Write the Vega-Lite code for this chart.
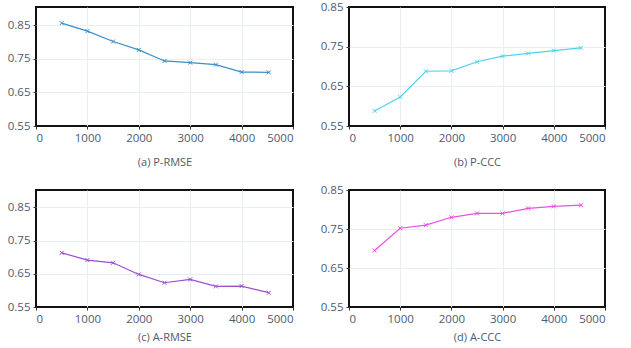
{
  "$schema": "https://vega.github.io/schema/vega-lite/v6.json",
  "padding": {"left": 6, "top": 0, "right": 5, "bottom": 5},
  "background": "white",
  "columns": 2,
  "spacing": {"row": 64, "column": 56},
  "bounds": "flush",
  "config": {
    "view": {"stroke": "#111111", "strokeWidth": 2},
    "axis": {
      "domain": false,
      "grid": true,
      "gridWidth": 1,
      "tickColor": "#333333",
      "tickSize": 3,
      "labelColor": "#4d5b70",
      "labelFont": "Open Sans",
      "labelFontSize": 11.5,
      "labelPadding": 3,
      "titleColor": "#4d5b70",
      "titleFont": "Open Sans",
      "titleFontSize": 11,
      "titleFontWeight": "normal"
    },
    "axisX": {
      "gridColor": {"condition": {"test": "datum.value === 0 || datum.value === 5000", "value": "transparent"}, "value": "#e9eef4"}
    }
  },
  "datasets": {
    "d": [
      {"panel": "a", "n": 500, "v": 0.857},
      {"panel": "a", "n": 1000, "v": 0.833},
      {"panel": "a", "n": 1500, "v": 0.802},
      {"panel": "a", "n": 2000, "v": 0.777},
      {"panel": "a", "n": 2500, "v": 0.744},
      {"panel": "a", "n": 3000, "v": 0.739},
      {"panel": "a", "n": 3500, "v": 0.733},
      {"panel": "a", "n": 4000, "v": 0.711},
      {"panel": "a", "n": 4530, "v": 0.710},
      {"panel": "b", "n": 500, "v": 0.588},
      {"panel": "b", "n": 1000, "v": 0.623},
      {"panel": "b", "n": 1500, "v": 0.688},
      {"panel": "b", "n": 2000, "v": 0.689},
      {"panel": "b", "n": 2500, "v": 0.712},
      {"panel": "b", "n": 3000, "v": 0.726},
      {"panel": "b", "n": 3500, "v": 0.733},
      {"panel": "b", "n": 4000, "v": 0.740},
      {"panel": "b", "n": 4530, "v": 0.747},
      {"panel": "c", "n": 500, "v": 0.713},
      {"panel": "c", "n": 1000, "v": 0.691},
      {"panel": "c", "n": 1500, "v": 0.683},
      {"panel": "c", "n": 2000, "v": 0.648},
      {"panel": "c", "n": 2500, "v": 0.623},
      {"panel": "c", "n": 3000, "v": 0.633},
      {"panel": "c", "n": 3500, "v": 0.612},
      {"panel": "c", "n": 4000, "v": 0.613},
      {"panel": "c", "n": 4530, "v": 0.593},
      {"panel": "d", "n": 500, "v": 0.695},
      {"panel": "d", "n": 1000, "v": 0.752},
      {"panel": "d", "n": 1500, "v": 0.760},
      {"panel": "d", "n": 2000, "v": 0.780},
      {"panel": "d", "n": 2500, "v": 0.790},
      {"panel": "d", "n": 3000, "v": 0.790},
      {"panel": "d", "n": 3500, "v": 0.803},
      {"panel": "d", "n": 4000, "v": 0.808},
      {"panel": "d", "n": 4530, "v": 0.811}
    ]
  },
  "concat": [
    {
      "width": 257, "height": 119,
      "data": {"name": "d"},
      "transform": [{"filter": "datum.panel === 'a'"}],
      "encoding": {
        "x": {"field": "n", "type": "quantitative", "scale": {"domain": [0, 5000], "nice": false},
              "axis": {"values": [0, 1000, 2000, 3000, 4000, 5000], "format": "d", "title": "(a) P-RMSE", "titlePadding": 13}},
        "y": {"field": "v", "type": "quantitative", "scale": {"domain": [0.55, 0.905], "nice": false, "zero": false},
              "axis": {"values": [0.55, 0.65, 0.75, 0.85], "format": ".2f", "title": null,
                       "gridColor": {"condition": {"test": "datum.value === 0.55", "value": "transparent"}, "value": "#e9eef4"}}}
      },
      "layer": [
        {"mark": {"type": "line", "color": "#3a8fc7", "strokeWidth": 1.2}},
        {"mark": {"type": "point", "shape": "M-1,-1L1,1M-1,1L1,-1", "filled": false, "size": 16, "color": "#3a8fc7", "strokeWidth": 1, "opacity": 1}}
      ]
    },
    {
      "width": 256, "height": 119,
      "data": {"name": "d"},
      "transform": [{"filter": "datum.panel === 'b'"}],
      "encoding": {
        "x": {"field": "n", "type": "quantitative", "scale": {"domain": [0, 5000], "nice": false},
              "axis": {"values": [0, 1000, 2000, 3000, 4000, 5000], "format": "d", "title": "(b) P-CCC", "titlePadding": 13}},
        "y": {"field": "v", "type": "quantitative", "scale": {"domain": [0.55, 0.85], "nice": false, "zero": false},
              "axis": {"values": [0.55, 0.65, 0.75, 0.85], "format": ".2f", "title": null,
                       "gridColor": {"condition": {"test": "datum.value === 0.55 || datum.value === 0.85", "value": "transparent"}, "value": "#e9eef4"}}}
      },
      "layer": [
        {"mark": {"type": "line", "color": "#4fd3f2", "strokeWidth": 1.2}},
        {"mark": {"type": "point", "shape": "M-1,-1L1,1M-1,1L1,-1", "filled": false, "size": 16, "color": "#4fd3f2", "strokeWidth": 1, "opacity": 1}}
      ]
    },
    {
      "width": 257, "height": 117,
      "data": {"name": "d"},
      "transform": [{"filter": "datum.panel === 'c'"}],
      "encoding": {
        "x": {"field": "n", "type": "quantitative", "scale": {"domain": [0, 5000], "nice": false},
              "axis": {"values": [0, 1000, 2000, 3000, 4000, 5000], "format": "d", "title": "(c) A-RMSE", "titlePadding": 7}},
        "y": {"field": "v", "type": "quantitative", "scale": {"domain": [0.55, 0.902], "nice": false, "zero": false},
              "axis": {"values": [0.55, 0.65, 0.75, 0.85], "format": ".2f", "title": null,
                       "gridColor": {"condition": {"test": "datum.value === 0.55", "value": "transparent"}, "value": "#e9eef4"}}}
      },
      "layer": [
        {"mark": {"type": "line", "color": "#9c4fcc", "strokeWidth": 1.2}},
        {"mark": {"type": "point", "shape": "M-1,-1L1,1M-1,1L1,-1", "filled": false, "size": 16, "color": "#9c4fcc", "strokeWidth": 1, "opacity": 1}}
      ]
    },
    {
      "width": 256, "height": 117,
      "data": {"name": "d"},
      "transform": [{"filter": "datum.panel === 'd'"}],
      "encoding": {
        "x": {"field": "n", "type": "quantitative", "scale": {"domain": [0, 5000], "nice": false},
              "axis": {"values": [0, 1000, 2000, 3000, 4000, 5000], "format": "d", "title": "(d) A-CCC", "titlePadding": 7}},
        "y": {"field": "v", "type": "quantitative", "scale": {"domain": [0.55, 0.85], "nice": false, "zero": false},
              "axis": {"values": [0.55, 0.65, 0.75, 0.85], "format": ".2f", "title": null,
                       "gridColor": {"condition": {"test": "datum.value === 0.55 || datum.value === 0.85", "value": "transparent"}, "value": "#e9eef4"}}}
      },
      "layer": [
        {"mark": {"type": "line", "color": "#e553e3", "strokeWidth": 1.2}},
        {"mark": {"type": "point", "shape": "M-1,-1L1,1M-1,1L1,-1", "filled": false, "size": 16, "color": "#e553e3", "strokeWidth": 1, "opacity": 1}}
      ]
    }
  ]
}
